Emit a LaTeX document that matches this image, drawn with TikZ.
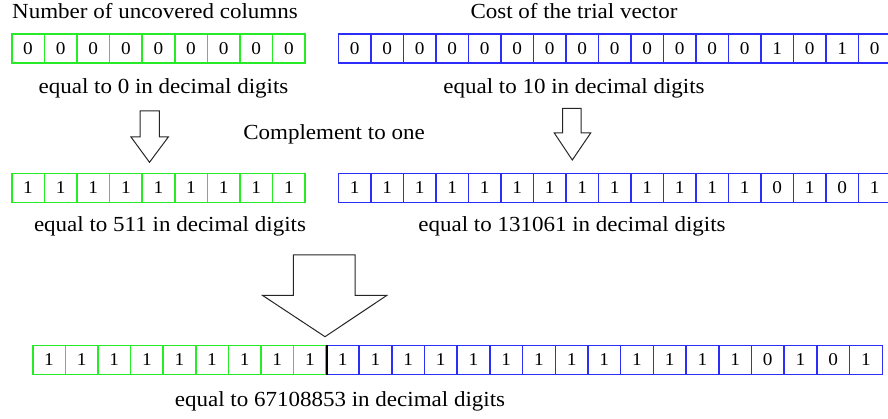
\documentclass[tikz,border=0pt]{standalone}
\usepackage{fontspec}
\setmainfont[FakeStretch=1.07]{Liberation Serif}
\definecolor{cg}{RGB}{40,235,40}
\definecolor{cb}{RGB}{45,45,250}
\tikzset{
  cell/.style={line width=1.5pt, minimum height=29pt, inner sep=0pt, anchor=west,
    font=\fontsize{18}{18}\selectfont},
  gcell/.style={cell, draw=cg, minimum width=32.6pt},
  bcell/.style={cell, draw=cb, minimum width=32.5pt},
  bcellw/.style={cell, draw=cb, minimum width=32.7pt},
  lbl/.style={anchor=base, inner sep=0pt, font=\fontsize{21.5}{24}\selectfont},
  blockarrow/.style={draw=black!85, line width=1pt, fill=white, line join=miter}
}
\begin{document}
\begin{tikzpicture}[x=1pt,y=-1pt]
\useasboundingbox (0,0) rectangle (888,419);
\clip (0,0) rectangle (888,419);
% titles
\node[lbl] (tA) at (155,19) {Number of uncovered columns};
\node[lbl] (tB) at (574,19) {Cost of the trial vector};
% row 1
\foreach \d [count=\i from 0] in {0,0,0,0,0,0,0,0,0}
  \node[gcell] (ga\i) at ({11+\i*32.6},48.5) {\d};
\foreach \d [count=\i from 0] in {0,0,0,0,0,0,0,0,0,0,0,0,0,1,0,1,0}
  \node[bcell] (ba\i) at ({337.8+\i*32.5},48.5) {\d};
\node[lbl] (eA) at (163.5,94) {equal to 0 in decimal digits};
\node[lbl] (eB) at (574,94) {equal to 10 in decimal digits};
\node[lbl] (cmp) at (334,140) {Complement to one};
% arrows 1 and 2
\draw[blockarrow] (140,111) -- (159.3,111) -- (159.3,137) -- (168.3,137)
  -- (149.5,162.3) -- (131,137) -- (140,137) -- cycle;
\draw[blockarrow] (562.7,108.3) -- (581,108.3) -- (581,133) -- (590.7,133)
  -- (572.3,160) -- (554.3,133) -- (562.7,133) -- cycle;
% row 2
\foreach \d [count=\i from 0] in {1,1,1,1,1,1,1,1,1}
  \node[gcell] (gb\i) at ({11+\i*32.6},188) {\d};
\foreach \d [count=\i from 0] in {1,1,1,1,1,1,1,1,1,1,1,1,1,0,1,0,1}
  \node[bcell] (bb\i) at ({337.8+\i*32.5},188) {\d};
\node[lbl] (eC) at (170,232) {equal to 511 in decimal digits};
\node[lbl] (eD) at (572,232) {equal to 131061 in decimal digits};
% arrow 3
\draw[blockarrow] (293.3,255) -- (355,255) -- (355,295.5) -- (386.7,295.5)
  -- (325,336.7) -- (262.7,295.5) -- (293.3,295.5) -- cycle;
% row 3
\foreach \d [count=\i from 0] in {1,1,1,1,1,1,1,1,1}
  \node[gcell] (gc\i) at ({32+\i*32.6},360) {\d};
\foreach \d [count=\i from 0] in {1,1,1,1,1,1,1,1,1,1,1,1,1,0,1,0,1}
  \node[bcellw] (bc\i) at ({325.6+\i*32.7},360) {\d};
\draw[line width=1.8pt] (gc8.north east) -- (gc8.south east);
\node[lbl] (eE) at (340,406) {equal to 67108853 in decimal digits};
\end{tikzpicture}
\end{document}
